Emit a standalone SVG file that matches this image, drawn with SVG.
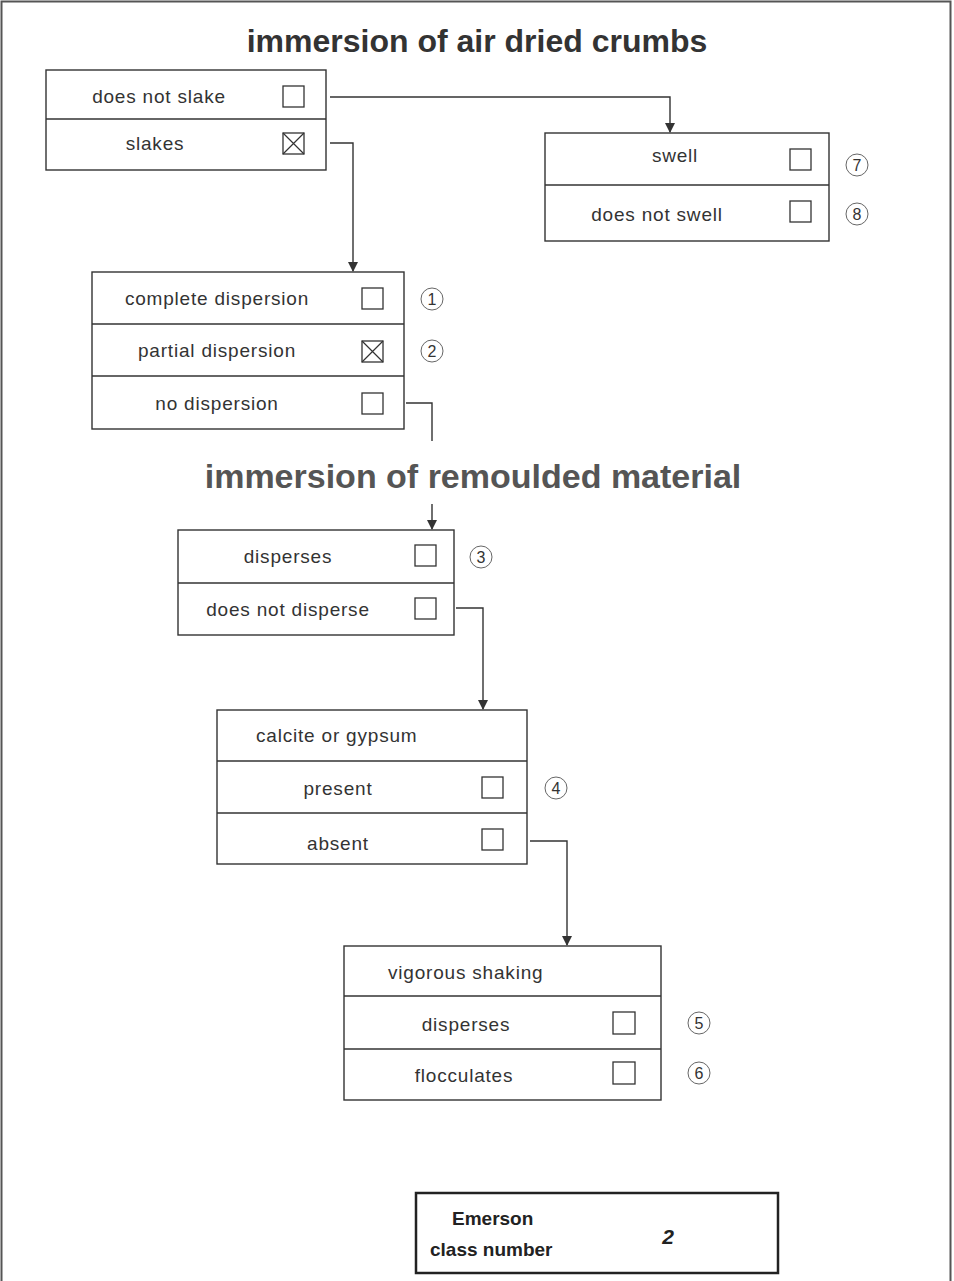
<svg xmlns="http://www.w3.org/2000/svg" width="954" height="1281" viewBox="0 0 954 1281">
<defs>
<style>
.box{fill:#fff;stroke:#333;stroke-width:1.4}
.div{stroke:#333;stroke-width:1.3}
.cb{fill:#fff;stroke:#333;stroke-width:1.3}
.x{stroke:#333;stroke-width:1.2}
.lbl{font-family:"Liberation Sans",Arial,sans-serif;font-size:19px;fill:#333;letter-spacing:0.8px}
.mid{text-anchor:middle}
.num{font-family:"Liberation Sans",Arial,sans-serif;font-size:16px;fill:#333;text-anchor:middle}
.circ{fill:none;stroke:#666;stroke-width:1}
.title{font-family:"Liberation Sans",Arial,sans-serif;font-weight:bold;text-anchor:middle}
.con{fill:none;stroke:#333;stroke-width:1.4}
</style>
<marker id="arr" markerWidth="10" markerHeight="10" refX="9" refY="5" orient="auto" markerUnits="userSpaceOnUse" viewBox="0 0 10 10">
<path d="M0,0 L10,5 L0,10 Z" fill="#333"/>
</marker>
</defs>
<rect width="954" height="1281" fill="#fff"/>
<path d="M1.5,1281 V1.5 H950.5 V1281" fill="none" stroke="#555" stroke-width="2"/>

<text class="title" x="477" y="52" font-size="32" fill="#333">immersion of air dried crumbs</text>
<text class="title" x="473" y="488" font-size="34" fill="#555">immersion of remoulded material</text>

<g id="connectors">
<path class="con" d="M330,97 H670 V132" marker-end="url(#arr)"/>
<path class="con" d="M330,143 H353 V271" marker-end="url(#arr)"/>
<path class="con" d="M406,403 H432 V441"/>
<path class="con" d="M432,504 V529" marker-end="url(#arr)"/>
<path class="con" d="M456,608 H483 V709" marker-end="url(#arr)"/>
<path class="con" d="M530,841 H567 V945" marker-end="url(#arr)"/>
</g>

<g id="slake">
<rect class="box" x="46" y="70" width="280" height="100"/>
<line class="div" x1="46" y1="119" x2="326" y2="119"/>
<text class="lbl mid" x="159" y="103">does not slake</text>
<rect class="cb" x="283" y="86" width="21" height="21"/>
<text class="lbl mid" x="155" y="150">slakes</text>
<rect class="cb" x="283" y="133" width="21" height="21"/>
<path class="x" d="M283,133 L304,154 M304,133 L283,154"/>
</g>

<g id="swell">
<rect class="box" x="545" y="133" width="284" height="108"/>
<line class="div" x1="545" y1="185" x2="829" y2="185"/>
<text class="lbl mid" x="675" y="162">swell</text>
<rect class="cb" x="790" y="149" width="21" height="21"/>
<text class="lbl mid" x="657" y="221">does not swell</text>
<rect class="cb" x="790" y="201" width="21" height="21"/>
<circle class="circ" cx="857" cy="165" r="11"/>
<text class="num" x="857" y="171">7</text>
<circle class="circ" cx="857" cy="214" r="11"/>
<text class="num" x="857" y="220">8</text>
</g>

<g id="dispersion">
<rect class="box" x="92" y="272" width="312" height="157"/>
<line class="div" x1="92" y1="324" x2="404" y2="324"/>
<line class="div" x1="92" y1="376" x2="404" y2="376"/>
<text class="lbl mid" x="217" y="305">complete dispersion</text>
<rect class="cb" x="362" y="288" width="21" height="21"/>
<text class="lbl mid" x="217" y="357">partial dispersion</text>
<rect class="cb" x="362" y="341" width="21" height="21"/>
<path class="x" d="M362,341 L383,362 M383,341 L362,362"/>
<text class="lbl mid" x="217" y="410">no dispersion</text>
<rect class="cb" x="362" y="393" width="21" height="21"/>
<circle class="circ" cx="432" cy="299" r="11"/>
<text class="num" x="432" y="305">1</text>
<circle class="circ" cx="432" cy="351" r="11"/>
<text class="num" x="432" y="357">2</text>
</g>

<g id="remoulded">
<rect class="box" x="178" y="530" width="276" height="105"/>
<line class="div" x1="178" y1="583" x2="454" y2="583"/>
<text class="lbl mid" x="288" y="563">disperses</text>
<rect class="cb" x="415" y="545" width="21" height="21"/>
<text class="lbl mid" x="288" y="616">does not disperse</text>
<rect class="cb" x="415" y="598" width="21" height="21"/>
<circle class="circ" cx="481" cy="557" r="11"/>
<text class="num" x="481" y="563">3</text>
</g>

<g id="calcite">
<rect class="box" x="217" y="710" width="310" height="154"/>
<line class="div" x1="217" y1="761" x2="527" y2="761"/>
<line class="div" x1="217" y1="813" x2="527" y2="813"/>
<text class="lbl" x="256" y="742">calcite or gypsum</text>
<text class="lbl mid" x="338" y="795">present</text>
<rect class="cb" x="482" y="777" width="21" height="21"/>
<text class="lbl mid" x="338" y="850">absent</text>
<rect class="cb" x="482" y="829" width="21" height="21"/>
<circle class="circ" cx="556" cy="788" r="11"/>
<text class="num" x="556" y="794">4</text>
</g>

<g id="shaking">
<rect class="box" x="344" y="946" width="317" height="154"/>
<line class="div" x1="344" y1="996" x2="661" y2="996"/>
<line class="div" x1="344" y1="1049" x2="661" y2="1049"/>
<text class="lbl" x="388" y="979">vigorous shaking</text>
<text class="lbl mid" x="466" y="1031">disperses</text>
<rect class="cb" x="613" y="1012" width="22" height="22"/>
<text class="lbl mid" x="464" y="1082">flocculates</text>
<rect class="cb" x="613" y="1062" width="22" height="22"/>
<circle class="circ" cx="699" cy="1023" r="11"/>
<text class="num" x="699" y="1029">5</text>
<circle class="circ" cx="699" cy="1073" r="11"/>
<text class="num" x="699" y="1079">6</text>
</g>

<g id="emerson">
<rect x="416" y="1193" width="362" height="80" fill="#fff" stroke="#222" stroke-width="2.5"/>
<text x="452" y="1225" font-family="Liberation Sans, Arial, sans-serif" font-weight="bold" font-size="19" fill="#222">Emerson</text>
<text x="430" y="1256" font-family="Liberation Sans, Arial, sans-serif" font-weight="bold" font-size="19" fill="#222">class number</text>
<text x="668" y="1244" font-family="Liberation Sans, Arial, sans-serif" font-weight="bold" font-style="italic" font-size="21" fill="#222" text-anchor="middle">2</text>
</g>
</svg>
